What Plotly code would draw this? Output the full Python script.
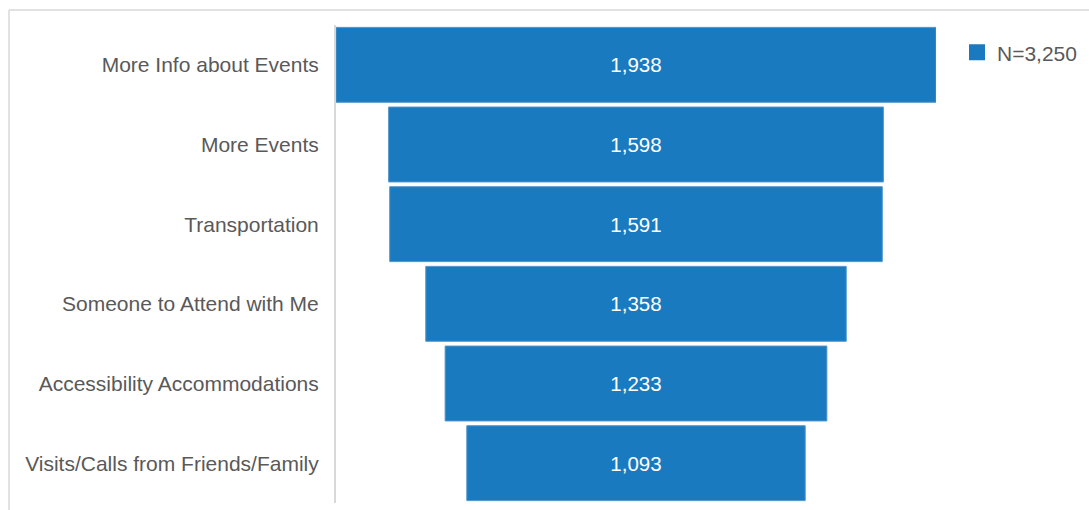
import plotly.graph_objects as go

# Survey responses: what would help people attend more events
categories = [
    "More Info about Events",
    "More Events",
    "Transportation",
    "Someone to Attend with Me",
    "Accessibility Accommodations",
    "Visits/Calls from Friends/Family",
]
counts = [1938, 1598, 1591, 1358, 1233, 1093]
series_name = "N=3,250"

BAR_COLOR = "#1a7abf"
TEXT_GRAY = "#595959"
FONT = "Liberation Sans"

fig = go.Figure()

fig.add_trace(
    go.Funnel(
        y=categories,
        x=counts,
        name=series_name,
        showlegend=False,
        texttemplate="%{x:,}",
        textposition="inside",
        insidetextanchor="middle",
        textfont=dict(color="white", size=20.5, family=FONT),
        marker=dict(color=BAR_COLOR, line=dict(color="#4f95cc", width=1)),
        connector=dict(visible=False),
        opacity=1,
    )
)

# legend entry with a larger square swatch
fig.add_trace(
    go.Scatter(
        x=[None],
        y=[None],
        mode="markers",
        name=series_name,
        marker=dict(symbol="square", size=16, color=BAR_COLOR),
        showlegend=True,
    )
)

fig.update_layout(
    width=1089,
    height=510,
    margin=dict(l=336, r=153, t=25, b=7),
    paper_bgcolor="white",
    plot_bgcolor="white",
    font=dict(family=FONT, size=21, color=TEXT_GRAY),
    funnelgap=0.06,
    xaxis=dict(
        visible=False,
        range=[-969, 969],
        fixedrange=True,
    ),
    yaxis=dict(
        showline=True,
        linecolor="#d9d9d9",
        linewidth=2,
        ticks="",
        ticklabelstandoff=11,
        tickfont=dict(size=21, color=TEXT_GRAY, family=FONT),
        showgrid=False,
        autorange="reversed",
    ),
    legend=dict(
        x=1.035,
        y=0.985,
        xanchor="left",
        yanchor="top",
        font=dict(size=21, color=TEXT_GRAY, family=FONT),
        itemsizing="trace",
        itemwidth=30,
        bgcolor="rgba(0,0,0,0)",
    ),
    shapes=[
        # outer frame: top and left edges
        dict(type="line", xref="paper", yref="paper",
             x0=(9 - 336) / 600, x1=(1089 - 336) / 600,
             y0=(503 - 10) / 478, y1=(503 - 10) / 478,
             line=dict(color="#d9d9d9", width=1.5)),
        dict(type="line", xref="paper", yref="paper",
             x0=(9 - 336) / 600, x1=(9 - 336) / 600,
             y0=(503 - 10) / 478, y1=(503 - 515) / 478,
             line=dict(color="#d9d9d9", width=1.5)),
    ],
)

fig.write_html("out.html")
